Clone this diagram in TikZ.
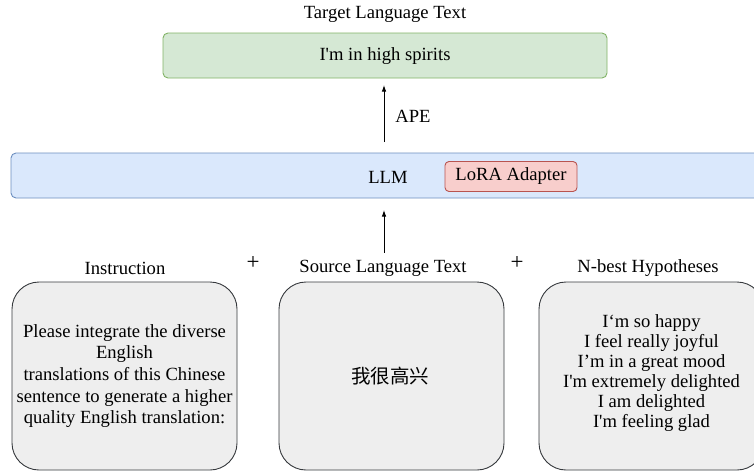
\documentclass[tikz,border=0pt]{standalone}
\usepackage{fontspec}
\setmainfont{Liberation Serif}
\newfontfamily\cjkfont{Noto Sans CJK SC}
\usetikzlibrary{arrows.meta}
\definecolor{gfill}{HTML}{D5E8D4}
\definecolor{gline}{HTML}{82B366}
\definecolor{bfill}{HTML}{DAE8FC}
\definecolor{bline}{HTML}{6C8EBF}
\definecolor{rfill}{HTML}{F8CECC}
\definecolor{rline}{HTML}{B85450}
\definecolor{kfill}{HTML}{EEEEEE}
\definecolor{kline}{HTML}{36393D}
\begin{document}
\begin{tikzpicture}[x=1pt,y=-1pt,
  every node/.style={inner sep=0pt,outer sep=0pt},
  txt/.style={font=\fontsize{18.6}{22}\selectfont},
  plustxt/.style={font=\fontsize{23}{26}\selectfont},
  greenbox/.style={draw=gline,fill=gfill,rounded corners=5pt,line width=0.9pt},
  bluebox/.style={draw=bline,fill=bfill,rounded corners=5pt,line width=0.9pt},
  redbox/.style={draw=rline,fill=rfill,rounded corners=4pt,line width=0.9pt},
  graybox/.style={draw=kline,fill=kfill,rounded corners=27pt,line width=0.9pt,minimum width=225pt,minimum height=188pt},
  arr/.style={line width=0.9pt,-{Latex[length=6.5pt,width=4.5pt]}}
]
\useasboundingbox (0,0) rectangle (754,471);
\clip (0,0) rectangle (754,471);
% top
\node[txt] (tlabel) at (385,14) {Target Language Text};
\node[greenbox,minimum width=444pt,minimum height=45pt] (tgt) at (385,55.5) {};
\node[txt] (tgttext) at (385,56) {I\textquotesingle m in high spirits};
% LLM
\node[bluebox,minimum width=789pt,minimum height=45pt] (llm) at (405.5,175.5) {};
\node[txt] (llmtext) at (388,177) {LLM};
\node[redbox,minimum width=132pt,minimum height=30pt,txt] (lora) at (511,176.5) {LoRA Adapter};
% arrows
\coordinate (ax) at (384,0);
\node[txt] (ape) at (413,116) {APE};
\draw[arr,shorten <=11pt,shorten >=7pt] (llm.north -| ax) -- (tgt.south -| ax);
% bottom labels
\node[txt] (instl) at (125,268) {Instruction};
\node[txt] (srcl) at (383,268) {Source Language Text};
\node[txt] (nbl) at (648,268) {N-best Hypotheses};
\node[plustxt] (plus1) at (253,263) {+};
\node[plustxt] (plus2) at (517,263) {+};
\draw[arr,shorten <=7pt,shorten >=12pt] (srcl.north -| ax) -- (llm.south -| ax);
% boxes
\node[graybox] (inst) at (124.5,376) {};
\node[graybox] (src) at (391.5,376) {};
\node[graybox] (nb) at (651.5,376) {};
\node[align=center,font=\fontsize{18.6}{21.6}\selectfont] (insttext) at (124.5,376)
  {Please integrate the diverse\\English\\ translations of this Chinese\\sentence to generate a higher\\quality English translation:};
\node[font=\cjkfont\fontsize{19.5}{22}\selectfont] (srctext) at (390,376) {我很高兴};
\node[align=center,font=\fontsize{18.6}{20.1}\selectfont] (nbtext) at (651.5,373)
  {I‘m so happy\\I feel really joyful\\I’m in a great mood\\I\textquotesingle m extremely delighted\\I am delighted\\I\textquotesingle m feeling glad};
\end{tikzpicture}
\end{document}
